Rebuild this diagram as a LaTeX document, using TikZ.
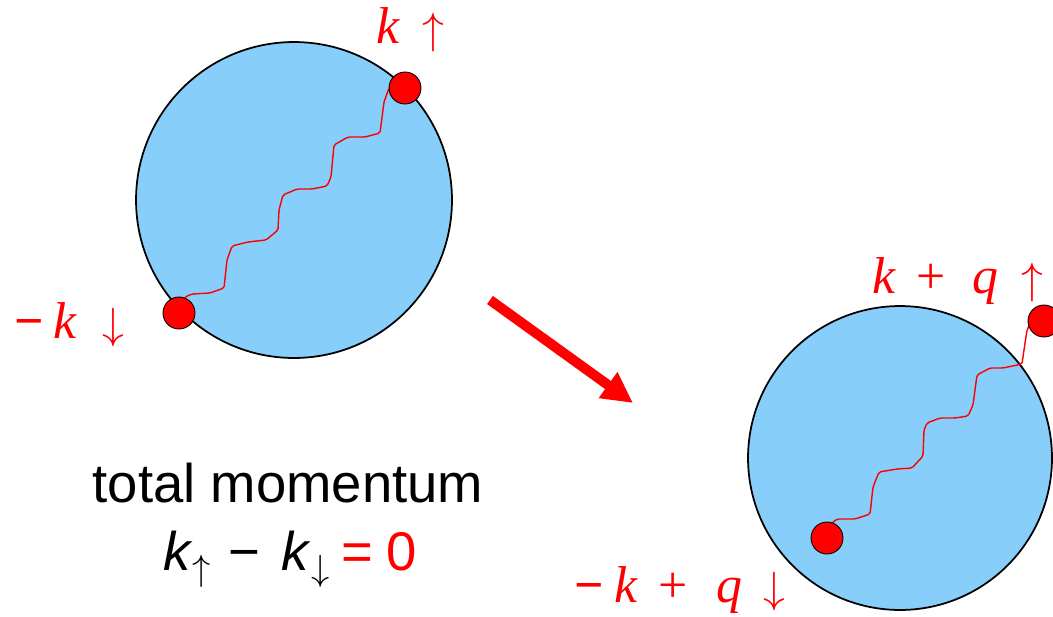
\documentclass[tikz,border=0pt]{standalone}
\usepackage{fontspec}
\setmainfont{Liberation Sans}
\newfontfamily\labelfont{Liberation Serif}
\definecolor{ballblue}{HTML}{87CEFA}
\definecolor{spinred}{HTML}{FF0000}
\usetikzlibrary{arrows.meta, positioning}

\tikzset{
   ball/.style={circle, draw=black, line width=1pt, fill=ballblue, inner sep=0pt},
   electron/.style={circle, draw=black, line width=0.5pt, fill=spinred, inner sep=0pt, minimum size=0.64cm},
   photon/.style={draw=spinred, line width=0.8pt, rounded corners=1pt},
   spinlabel/.style={text=spinred, inner sep=0pt, anchor=base west, font=\labelfont\fontsize{29.5}{35}\selectfont},
   bigtext/.style={inner sep=0pt, anchor=base, font=\fontsize{31}{37}\selectfont}
}

\begin{document}
\begin{tikzpicture}[x=0.02cm, y=-0.02cm]
      \useasboundingbox (0,0) rectangle (1053,616);
      % Before: pair at rest
      \node[ball, minimum size=6.32cm] (leftball) at (294,200) {};
      \coordinate (dotA) at (179,313);
      \coordinate (dotB) at (405,88);
      \draw[photon] (dotA) -- (185,297) -- (192,294) -- (210,293) -- (224,288)
         -- (227,260) -- (232,246) -- (248,242) -- (266,240) -- (278,230)
         -- (279,210) -- (283,195) -- (297,189) -- (312,189) -- (327,186)
         -- (331,177) -- (334,145) -- (348,137) -- (365,137) -- (380,133)
         -- (384,102) -- (389,88) -- (dotB);
      \node[electron] (downA) at (dotA) {};
      \node[electron] (upB) at (dotB) {};
      \node[spinlabel] (labupB) at (376,43) {\textit{k}\hspace{0.43em}$\uparrow$};
      \node[spinlabel] (labdownA) at (14,338) {\textbf{−}\hspace{0.18em}\textit{k}\hspace{0.5em}$\downarrow$};
      % Shift arrow
      \coordinate (arrowtail) at (490,300);
      \coordinate (arrowtip) at (633,403);
      \draw[spinred, line width=5.7pt, -{Triangle[length=17.5pt, width=17pt]}] (arrowtail) -- (arrowtip);
      % After: pair with momentum q
      \node[ball, minimum size=6.08cm] (rightball) at (900,458) {};
      \coordinate (dotC) at (827,538);
      \coordinate (dotD) at (1044,321);
      \draw[photon] (dotC) -- (832,523) -- (837,519) -- (855,519) -- (870,514)
         -- (873,487) -- (879,472) -- (897,469) -- (912,468) -- (923,456)
         -- (924,430) -- (927,423) -- (940,418) -- (955,418) -- (968,416)
         -- (973,405) -- (977,375) -- (990,368) -- (1003,368) -- (1022,364)
         -- (1025,343) -- (1027,330) -- (1032,320) -- (dotD);
      \node[electron] (downC) at (dotC) {};
      \node[electron] (upD) at (dotD) {};
      \node[spinlabel] (labupD) at (872,293)
         {\textit{k}\hspace{0.4em}+\hspace{0.5em}\textit{q}\hspace{0.45em}$\uparrow$};
      \node[spinlabel] (labdownC) at (574,602)
         {\textbf{−}\hspace{0.2em}\textit{k}\hspace{0.4em}+\hspace{0.55em}\textit{q}\hspace{0.4em}$\downarrow$};
      % Caption
      \node[bigtext] (total) at (288,502) {total momentum};
      \node[bigtext] (sum) at (290,570)
         {\textit{k}$_{\uparrow}$\hspace{0.3em}−\hspace{0.4em}\textit{k}$_{\downarrow}$\hspace{0.2em}{\color{spinred}=\hspace{0.25em}0}};
\end{tikzpicture}
\end{document}
